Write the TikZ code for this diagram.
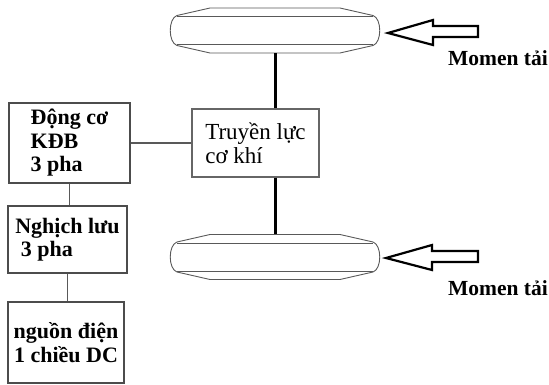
\documentclass[tikz,border=0pt]{standalone}
\usepackage{fontspec}
\setmainfont{Liberation Serif}
\begin{document}
\begin{tikzpicture}[x=1pt,y=-1pt,
  box/.style={draw=black!70,line width=1.2pt,inner sep=0pt,font=\fontsize{22}{23.5}\selectfont\bfseries},
  plainbox/.style={draw=black!60,line width=1.1pt,inner sep=0pt,font=\fontsize{23}{24}\selectfont},
  link/.style={draw=black!65,line width=1.1pt},
  shaft/.style={draw=black,line width=3pt},
  wheelnode/.style={minimum width=210pt,minimum height=45pt,inner sep=0pt},
  wheelline/.style={draw=black!65,line width=0.9pt},
  hollowarrow/.style={draw=black,line width=2.2pt,line join=miter},
  lbl/.style={font=\fontsize{21.5}{24}\selectfont\bfseries,inner sep=0pt}
]
\useasboundingbox (0,0) rectangle (549,385);

% boxes
\node[box,minimum width=121pt,minimum height=80pt,align=left] (motor) at (69.5,143) {Động cơ\\KĐB\\3 pha};
\node[box,minimum width=119pt,minimum height=67pt,align=left] (inv) at (67.5,239.5) {Nghịch lưu\\\ 3 pha};
\node[box,minimum width=116pt,minimum height=81pt,align=center] (dc) at (66,342.5) {nguồn điện\\1 chiều DC};
\node[plainbox,minimum width=127pt,minimum height=68pt,align=left] (trans) at (255.5,143) {Truyền lực\\cơ khí};

% wheels
\node[wheelnode] (w1) at (275,30.5) {};
\node[wheelnode] (w2) at (275,257) {};
\foreach \w in {w1,w2}{
  \begin{scope}[shift={(\w.center)}]
    \draw[wheelline] (-65,-22.5) -- (65,-22.5) -- (98,-15)
      .. controls (107,-12) and (107,12) .. (98,15) -- (65,22.5) -- (-65,22.5) -- (-98,15)
      .. controls (-107,12) and (-107,-12) .. (-98,-15) -- cycle;
    \draw[wheelline] (-98,-14) -- (98,-14);
    \draw[wheelline] (-98,14) -- (98,14);
  \end{scope}
}

% connectors
\draw[link] (motor.east) -- (trans.west);
\draw[link] (motor.south) -- (motor.south |- inv.north);
\draw[link] (inv.south) -- (inv.south |- dc.north);
\draw[shaft] (w1.south) -- (w1.south |- trans.north);
\draw[shaft] (w1.south |- trans.south) -- (w2.north);

% load torque arrows
\coordinate (a1) at (388,33);
\coordinate (a2) at (386,258);
\draw[hollowarrow] (a1) -- ++(45,-13) -- ++(0,6) -- ++(45,0) -- ++(0,11) -- ++(-45,0) -- ++(0,8) -- cycle;
\draw[hollowarrow] (a2) -- ++(46,-13) -- ++(0,6) -- ++(46,0) -- ++(0,11) -- ++(-46,0) -- ++(0,8) -- cycle;
\node[lbl,anchor=east] (m1) at (548,58) {Momen tải};
\node[lbl,anchor=east] (m2) at (548,288) {Momen tải};
\end{tikzpicture}
\end{document}
